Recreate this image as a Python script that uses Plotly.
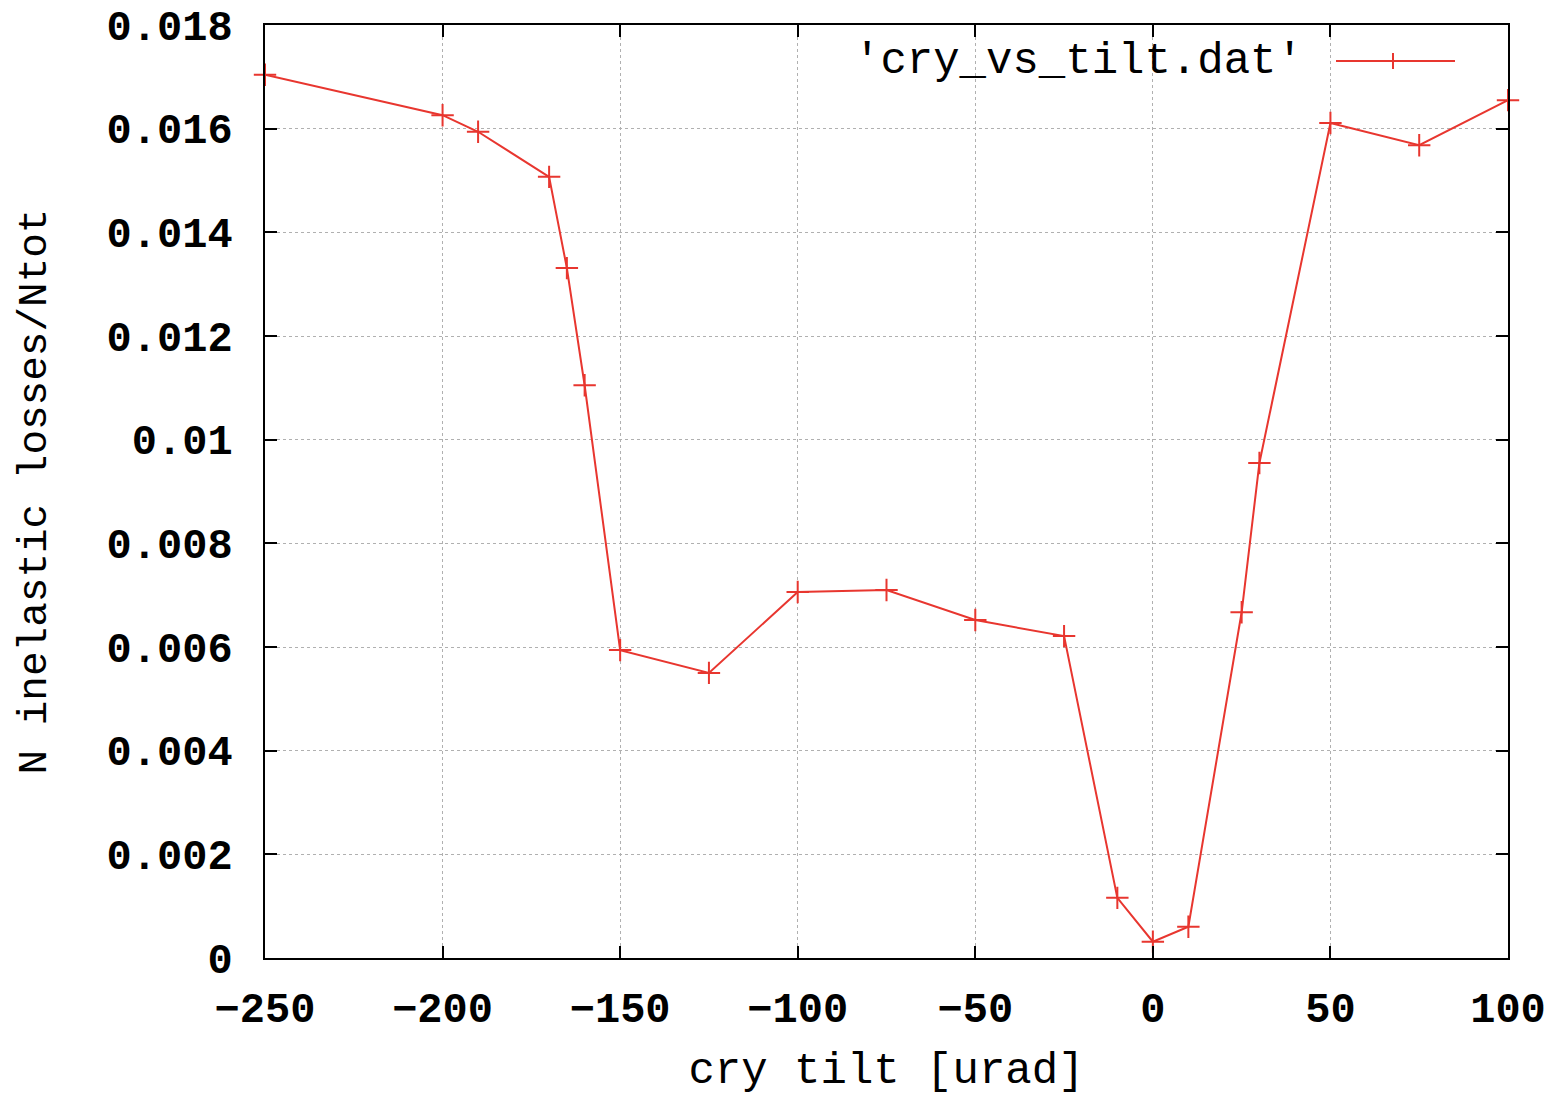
import plotly.graph_objects as go

tilt = [-250, -200, -190, -170, -165, -160, -150, -125, -100, -75, -50, -25,
        -10, 0, 10, 25, 30, 50, 75, 100]
losses = [0.01704, 0.01626, 0.01594, 0.01507, 0.01331, 0.01105, 0.00594, 0.00550,
          0.00706, 0.00710, 0.00652, 0.00621, 0.00116, 0.000315, 0.000604,
          0.00667, 0.00955, 0.01611, 0.01568, 0.01655]
series_name = "'cry_vs_tilt.dat'"
x_ticks = [-250, -200, -150, -100, -50, 0, 50, 100]
y_ticks = [0, 0.002, 0.004, 0.006, 0.008, 0.01, 0.012, 0.014, 0.016, 0.018]
y_tick_text = ["0", "0.002", "0.004", "0.006", "0.008", "0.01", "0.012", "0.014", "0.016", "0.018"]

RED = "#e8362f"
FONT = "Liberation Mono"

fig = go.Figure()
fig.add_trace(go.Scatter(
    x=tilt, y=losses, mode="lines+markers", name=series_name,
    line=dict(color=RED, width=2),
    marker=dict(symbol="cross-thin", size=16, line=dict(color=RED, width=2), color=RED),
    showlegend=False, cliponaxis=False,
))

axis_common = dict(
    showline=True, linecolor="black", linewidth=2, mirror="ticks",
    ticks="inside", ticklen=12, tickwidth=2, tickcolor="black",
    showgrid=True, gridcolor="#b0b0b0", griddash="dot", gridwidth=1,
    zeroline=False, automargin=False,
    tickfont=dict(family=FONT, size=42, color="black", weight="bold"),
)

fig.update_xaxes(
    range=[-250, 100], tickvals=x_ticks, ticklabelstandoff=12,
    title=dict(text="cry tilt [urad]", font=dict(family=FONT, size=44, color="black"), standoff=18),
    **axis_common,
)
fig.update_yaxes(
    range=[0, 0.018], tickvals=y_ticks, ticktext=y_tick_text, ticklabelstandoff=22,
    title=dict(text="N inelastic losses/Ntot", font=dict(family=FONT, size=41, color="black"), standoff=47),
    **axis_common,
)

# gnuplot-style key: text followed by sample line with marker
fig.add_annotation(
    xref="paper", yref="paper", x=(1305 - 265) / 1243, y=(958 - 61) / 933,
    text=series_name, showarrow=False, xanchor="right", yanchor="middle",
    font=dict(family=FONT, size=44, color="black"),
)
fig.add_shape(type="line", xref="paper", yref="paper",
              x0=(1336 - 265) / 1243, x1=(1455 - 265) / 1243,
              y0=(958 - 61) / 933, y1=(958 - 61) / 933,
              line=dict(color=RED, width=2))
fig.add_shape(type="line", xref="paper", yref="paper",
              x0=(1393 - 265) / 1243, x1=(1393 - 265) / 1243,
              y0=(958 - 69) / 933, y1=(958 - 53) / 933,
              line=dict(color=RED, width=2))

fig.update_layout(
    width=1568, height=1097,
    margin=dict(l=265, r=60, t=25, b=139),
    plot_bgcolor="white", paper_bgcolor="white",
    font=dict(family=FONT, color="black"),
)

fig.write_html("out.html")
